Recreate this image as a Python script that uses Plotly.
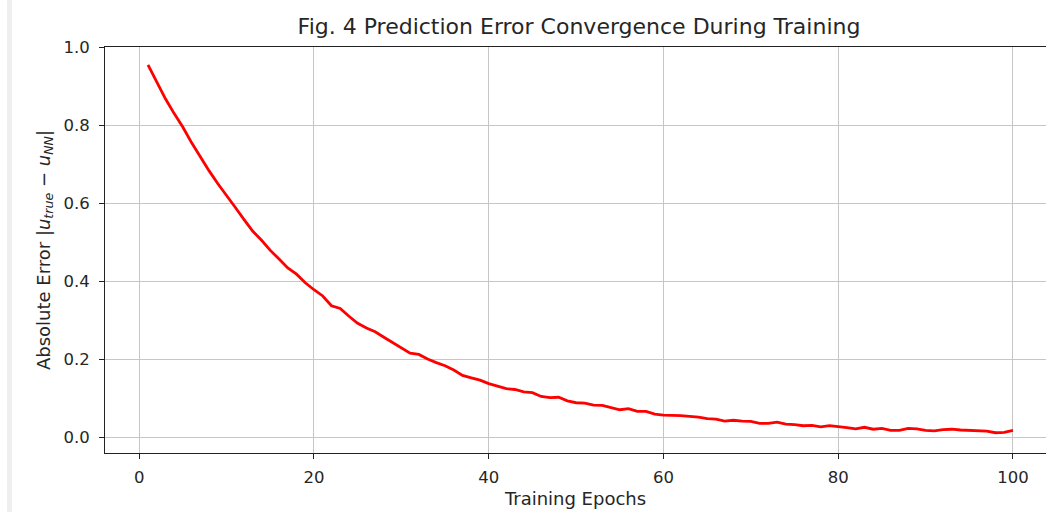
import plotly.graph_objects as go

epochs = list(range(1, 101))
abs_error = [
    0.955, 0.912, 0.868, 0.830, 0.795, 0.755, 0.718, 0.683, 0.650, 0.618,
    0.589, 0.558, 0.528, 0.505, 0.479, 0.457, 0.434, 0.418, 0.396, 0.378,
    0.362, 0.337, 0.330, 0.310, 0.292, 0.280, 0.270, 0.256, 0.243, 0.228,
    0.215, 0.212, 0.200, 0.191, 0.183, 0.172, 0.158, 0.152, 0.146, 0.137,
    0.130, 0.124, 0.122, 0.116, 0.114, 0.104, 0.101, 0.102, 0.093, 0.088,
    0.087, 0.082, 0.081, 0.076, 0.070, 0.073, 0.066, 0.066, 0.059, 0.056,
    0.056, 0.055, 0.053, 0.051, 0.047, 0.046, 0.041, 0.043, 0.041, 0.040,
    0.035, 0.035, 0.038, 0.033, 0.032, 0.029, 0.030, 0.026, 0.029, 0.027,
    0.024, 0.021, 0.025, 0.020, 0.022, 0.017, 0.017, 0.022, 0.021, 0.017,
    0.016, 0.019, 0.020, 0.018, 0.017, 0.016, 0.015, 0.011, 0.012, 0.017,
]
x_ticks = [0, 20, 40, 60, 80, 100]
y_ticks = [0.0, 0.2, 0.4, 0.6, 0.8, 1.0]
y_tick_labels = ["0.0", "0.2", "0.4", "0.6", "0.8", "1.0"]

title_text = "Fig. 4 Prediction Error Convergence During Training"
x_title = "Training Epochs"
y_title = "Absolute Error |<i>u</i><sub><i>true</i></sub> − <i>u</i><sub><i>NN</i></sub>|"

FONT = "DejaVu Sans"
W, H = 1046, 512
L, T, B, R = 105, 47, 59, 0

fig = go.Figure()
fig.add_trace(go.Scatter(
    x=epochs, y=abs_error, mode="lines",
    line=dict(color="#ff0000", width=2.8),
    showlegend=False, hoverinfo="skip",
))

axis_common = dict(
    showline=True, linecolor="#222222", linewidth=1.1,
    ticks="outside", ticklen=5, tickwidth=1, tickcolor="#222222",
    showgrid=True, gridcolor="#c6c6c6", gridwidth=1,
    zeroline=False,
    tickfont=dict(family=FONT, size=16.5, color="#262626"),
)

fig.update_layout(
    width=W, height=H,
    margin=dict(l=L, r=R, t=T, b=B, pad=0),
    paper_bgcolor="white", plot_bgcolor="white",
    font=dict(family=FONT, color="#262626"),
    title=dict(text=title_text, x=(579 / W), xanchor="center",
               y=1 - 26 / H, yanchor="middle", yref="container",
               font=dict(family=FONT, size=22, color="#262626")),
    xaxis=dict(
        range=[-3.92, 103.78], tickvals=x_ticks,
        mirror=True,
        title=dict(text=x_title, standoff=6, font=dict(family=FONT, size=18, color="#262626")),
        ticklabelstandoff=4,
        **axis_common,
    ),
    yaxis=dict(
        range=[-0.041, 1.001], tickvals=y_ticks, ticktext=y_tick_labels,
        title=dict(text=y_title, standoff=8, font=dict(family=FONT, size=18, color="#262626")),
        ticklabelstandoff=6,
        **axis_common,
    ),
)

# light grey vertical band at the far left edge of the screenshot
fig.add_shape(type="rect", xref="paper", yref="paper",
              x0=(7 - L) / (W - L - R), x1=(12 - L) / (W - L - R),
              y0=-(B) / (H - T - B), y1=(H - B) / (H - T - B),
              fillcolor="#efefef", line=dict(width=0), layer="below")

fig.write_html("out.html")
